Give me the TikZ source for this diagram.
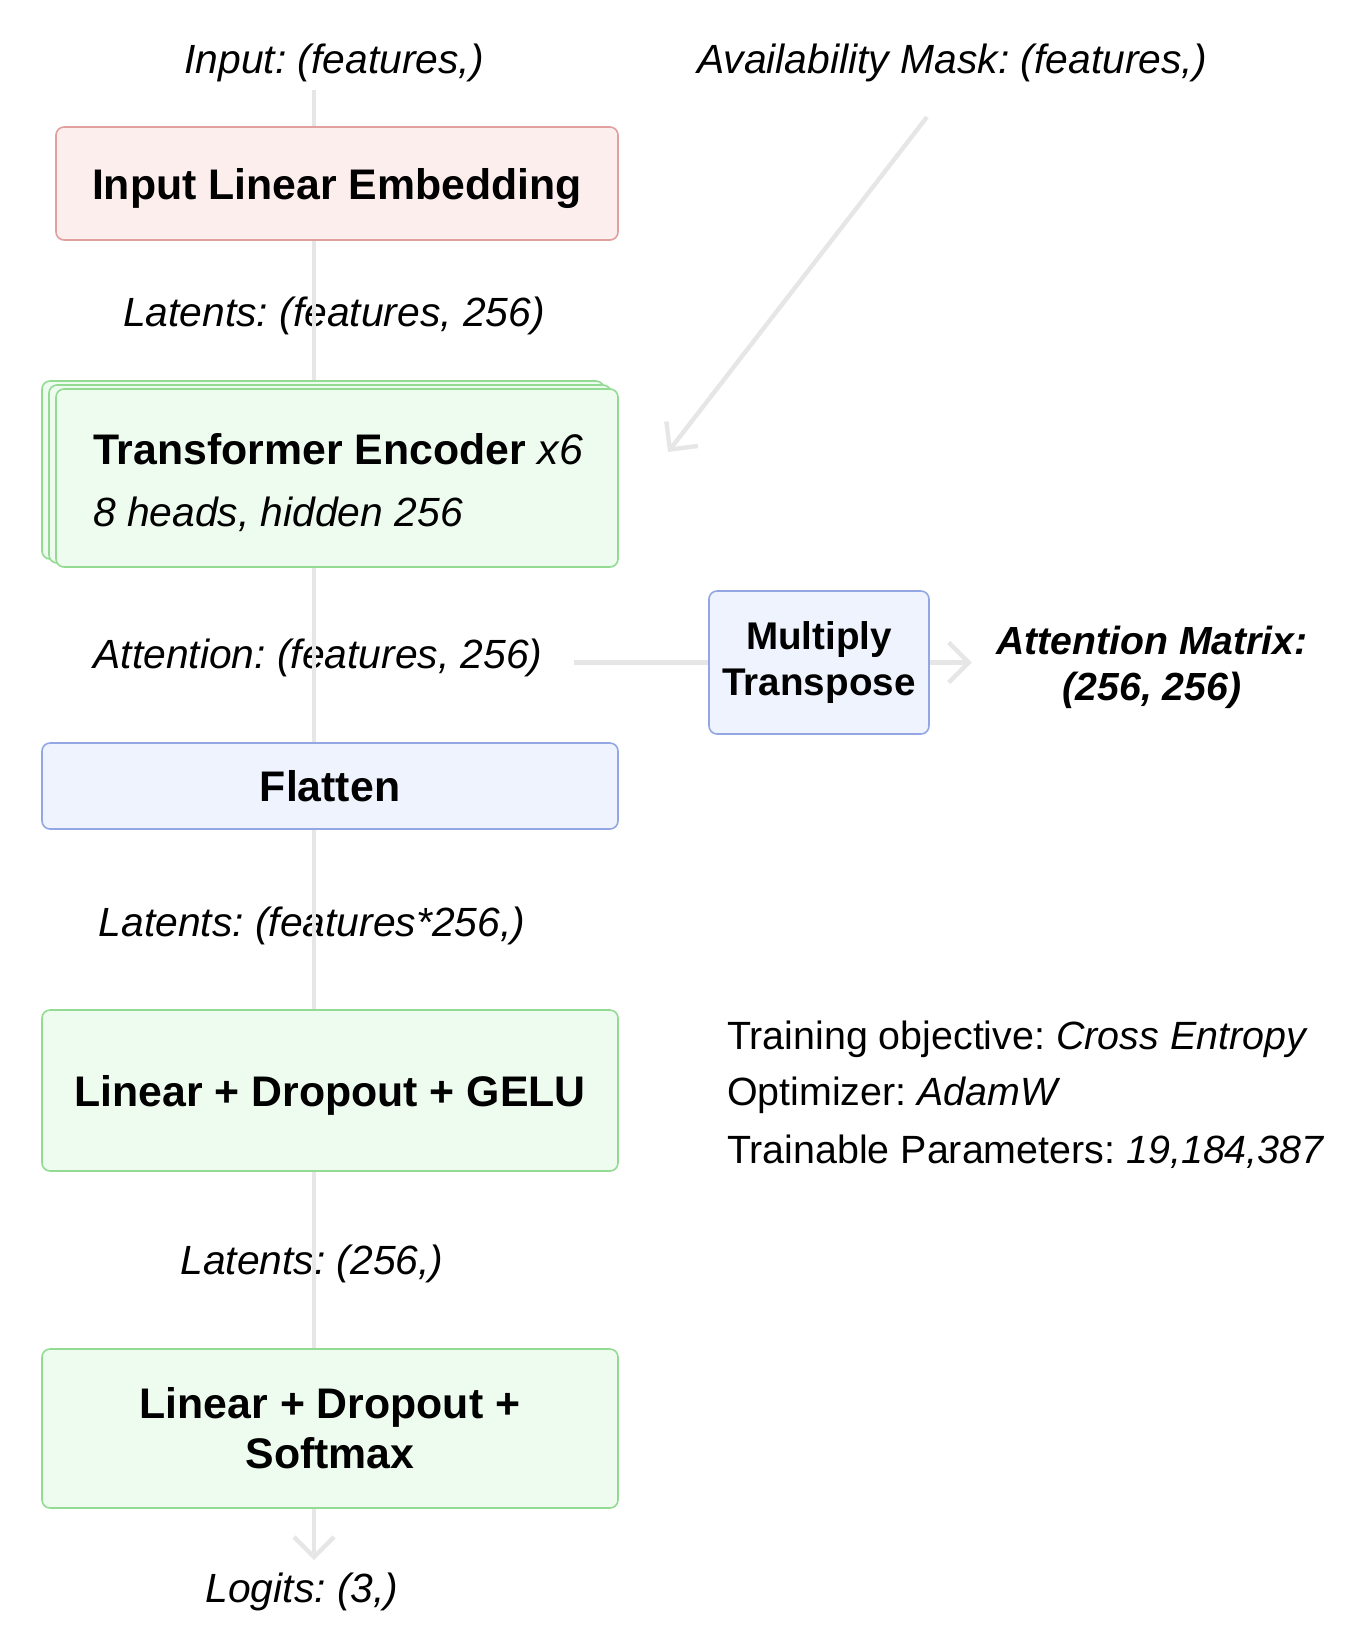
\documentclass[tikz,border=0pt]{standalone}
\usepackage{fontspec}
\setmainfont{Liberation Sans}
\usetikzlibrary{arrows.meta}
\frenchspacing

\definecolor{flowgray}{HTML}{E6E6E6}
\definecolor{redfill}{HTML}{FDEEEE}
\definecolor{reddraw}{HTML}{E0A0A0}
\definecolor{greenfill}{HTML}{EEFCEF}
\definecolor{greendraw}{HTML}{93DB93}
\definecolor{bluefill}{HTML}{EEF3FD}
\definecolor{bluedraw}{HTML}{93A8E2}

\tikzset{
  box/.style={rectangle, rounded corners=4pt, line width=0.8pt, font=\fontsize{21.4}{25}\selectfont\bfseries, align=center},
  redbox/.style={box, fill=redfill, draw=reddraw},
  greenbox/.style={box, fill=greenfill, draw=greendraw},
  bluebox/.style={box, fill=bluefill, draw=bluedraw},
  lbl/.style={font=\fontsize{20.4}{24}\selectfont\itshape, align=center},
  note/.style={font=\fontsize{19.7}{24}\selectfont},
  flow/.style={draw=flowgray, line width=2.2pt},
  chev/.tip={Straight Barb[length=10pt, width=20pt, line width=2.2pt]}
}

\begin{document}
\begin{tikzpicture}[x=0.5pt, y=-0.5pt]
    \useasboundingbox (0,0) rectangle (1370,1630);
    \coordinate (spine) at (314,0);

    \node[lbl] (InLbl)   at (334,63)  {Input: (features,)};
    \node[lbl] (MaskLbl) at (952,63)  {Availability Mask: (features,)};

    \node[redbox, minimum width=281pt, minimum height=56.5pt, text depth=0pt] (Emb) at (337,183.5) {Input Linear Embedding};

    \node[lbl] (LatFeat) at (334,316) {Latents: (features, 256)};

    \node[greenbox, minimum width=281pt, minimum height=89pt] (EncBack) at (323,470) {};
    \node[greenbox, minimum width=281pt, minimum height=89pt] (EncMid)  at (330,474) {};
    \node[greenbox, minimum width=281pt, minimum height=89pt] (Enc)     at (337,478) {};
    \node[anchor=west, font=\fontsize{21.4}{25}\selectfont\bfseries] (EncTitle) at (86,449) {Transformer Encoder \textit{\mdseries x6}};
    \node[anchor=west, lbl] (EncSub) at (86,514) {8 heads, hidden 256};

    \node[lbl] (Attn) at (318,658) {Attention: (features, 256)};
    \node[bluebox, minimum width=110pt, minimum height=71.5pt, font=\fontsize{19.3}{23}\selectfont\bfseries] (Mult) at (819,662.5) {Multiply\\Transpose};
    \node[lbl, font=\fontsize{19.6}{23}\selectfont\bfseries\itshape] (AttnMat) at (1152,667) {Attention Matrix:\\(256, 256)};

    \node[bluebox, minimum width=288pt, minimum height=43pt] (Flat) at (330,786) {Flatten};

    \node[lbl] (LatFlat) at (312,926) {Latents: (features*256,)};

    \node[greenbox, minimum width=288pt, minimum height=80.5pt, text depth=0pt] (Gelu) at (330,1090.5) {Linear + Dropout + GELU};

    \node[anchor=west, note] (TrainObj) at (720,1039) {Training objective: \textit{Cross Entropy}};
    \node[anchor=west, note] (Optim)    at (720,1095) {Optimizer: \textit{AdamW}};
    \node[anchor=west, note] (Params)   at (720,1152) {Trainable Parameters: \textit{19,184,387}};

    \node[lbl] (LatSmall) at (312,1264) {Latents: (256,)};

    \node[greenbox, minimum width=288pt, minimum height=79.5pt] (Soft) at (330,1428.5) {Linear + Dropout +\\Softmax};

    \node[lbl] (Logits) at (302,1592) {Logits: (3,)};

    \coordinate (MaskFrom) at (927,117);
    \coordinate (MaskTo)   at (668,452);

    \draw[flow] (spine |- 0,90)      -- (spine |- Emb.north);
    \draw[flow] (spine |- Emb.south) -- (spine |- EncBack.north);
    \draw[flow] (spine |- Enc.south) -- (spine |- Flat.north);
    \draw[flow] (spine |- Flat.south) -- (spine |- Gelu.north);
    \draw[flow] (spine |- Gelu.south) -- (spine |- Soft.north);
    \draw[flow, -{chev}] (spine |- Soft.south) -- (spine |- 0,1560);

    \draw[flow] ([xshift=12pt]Attn.east |- Mult.west) -- (Mult.west);
    \draw[flow, -{chev}] (Mult.east) -- ++(42,0);
    \draw[flow, -{chev}] (MaskFrom) -- (MaskTo);
  \end{tikzpicture}
\end{document}
